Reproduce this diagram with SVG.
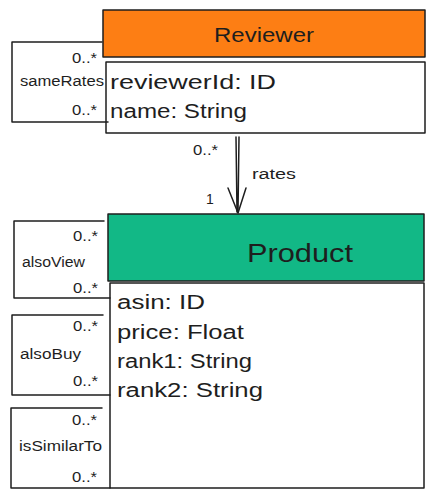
<svg xmlns="http://www.w3.org/2000/svg" width="436" height="499" viewBox="0 0 436 499">
<style>
.ln{stroke:#1e1e1e;stroke-width:1.5;stroke-linecap:round;stroke-linejoin:round}
.open{fill:none}
.t{font-family:"Liberation Sans","DejaVu Sans",sans-serif;fill:#1e1e1e}
.big{font-size:20px}
.sm{font-size:14px}
.r{text-anchor:end}
</style>
<rect width="436" height="499" fill="#ffffff"/>
<g id="reviewer">
<rect x="103" y="10" width="322" height="47" fill="#fd7e14" class="ln"/>
<text x="264" y="42" class="t big" text-anchor="middle" textLength="100" lengthAdjust="spacingAndGlyphs">Reviewer</text>
<rect x="106" y="62" width="319" height="71" fill="#ffffff" class="ln"/>
<text x="110" y="89" class="t big" textLength="166" lengthAdjust="spacingAndGlyphs">reviewerId: ID</text>
<text x="110" y="118" class="t big" textLength="137" lengthAdjust="spacingAndGlyphs">name: String</text>
</g>
<g id="sameRates">
<path d="M102 42 L12 42 L12 122 L108 122" class="ln open"/>
<text x="97" y="63" class="t sm r" textLength="25" lengthAdjust="spacingAndGlyphs">0..*</text>
<text x="20" y="86" class="t sm" textLength="84" lengthAdjust="spacingAndGlyphs">sameRates</text>
<text x="97" y="115" class="t sm r" textLength="25" lengthAdjust="spacingAndGlyphs">0..*</text>
</g>
<g id="product">
<rect x="108" y="214" width="316" height="67" fill="#12b886" class="ln"/>
<text x="300" y="262" class="t" font-size="26" text-anchor="middle" textLength="106" lengthAdjust="spacingAndGlyphs">Product</text>
<rect x="110" y="283" width="314" height="205" fill="#ffffff" class="ln"/>
<text x="117" y="309" class="t big" textLength="88" lengthAdjust="spacingAndGlyphs">asin: ID</text>
<text x="117" y="339" class="t big" textLength="127" lengthAdjust="spacingAndGlyphs">price: Float</text>
<text x="117" y="368" class="t big" textLength="135" lengthAdjust="spacingAndGlyphs">rank1: String</text>
<text x="117" y="397" class="t big" textLength="146" lengthAdjust="spacingAndGlyphs">rank2: String</text>
</g>
<g id="alsoView">
<path d="M104 221 L14 221 L14 298 L110 298" class="ln open"/>
<text x="98" y="241" class="t sm r" textLength="25" lengthAdjust="spacingAndGlyphs">0..*</text>
<text x="22" y="267" class="t sm" textLength="63" lengthAdjust="spacingAndGlyphs">alsoView</text>
<text x="98" y="293" class="t sm r" textLength="25" lengthAdjust="spacingAndGlyphs">0..*</text>
</g>
<g id="alsoBuy">
<path d="M103 315 L12 315 L12 395 L110 395" class="ln open"/>
<text x="98" y="331" class="t sm r" textLength="25" lengthAdjust="spacingAndGlyphs">0..*</text>
<text x="20" y="359" class="t sm" textLength="61" lengthAdjust="spacingAndGlyphs">alsoBuy</text>
<text x="98" y="386" class="t sm r" textLength="25" lengthAdjust="spacingAndGlyphs">0..*</text>
</g>
<g id="isSimilarTo">
<path d="M102 408 L11 408 L11 488 L110 488" class="ln open"/>
<text x="97" y="425" class="t sm r" textLength="25" lengthAdjust="spacingAndGlyphs">0..*</text>
<text x="19" y="451" class="t sm" textLength="83" lengthAdjust="spacingAndGlyphs">isSimilarTo</text>
<text x="97" y="482" class="t sm r" textLength="25" lengthAdjust="spacingAndGlyphs">0..*</text>
</g>
<g id="connectors">
<path d="M236 137 L237 212 M239 137 L238 212" class="ln open" stroke-width="1"/>
<path d="M228 188 L238 213 L246 188" class="ln open"/>
<text x="193" y="155" class="t sm" textLength="25" lengthAdjust="spacingAndGlyphs">0..*</text>
<text x="252" y="179" class="t sm" textLength="44" lengthAdjust="spacingAndGlyphs">rates</text>
<text x="206" y="204" class="t sm">1</text>
</g>
</svg>
